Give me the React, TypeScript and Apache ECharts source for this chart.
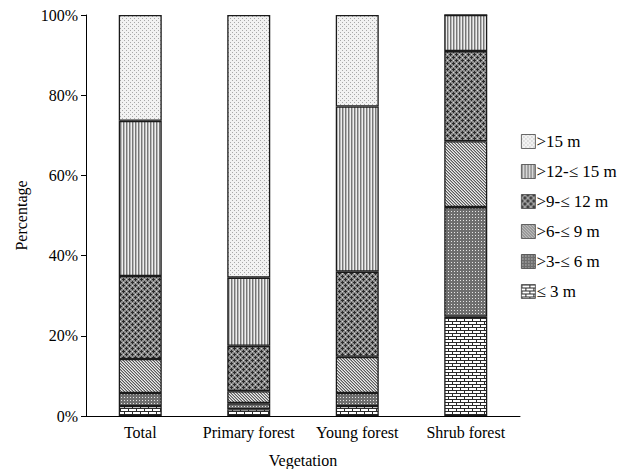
import React, { useEffect, useRef } from "react";
import * as echarts from "echarts";

const categories = ["Total", "Primary forest", "Young forest", "Shrub forest"];
const seriesNames = ["≤ 3 m", ">3-≤ 6 m", ">6-≤ 9 m", ">9-≤ 12 m", ">12-≤ 15 m", ">15 m"];
const le3 = [2.5, 1.7, 2.5, 24.75];
const g3to6 = [3.25, 1.5, 3.25, 27.35];
const g6to9 = [8.45, 3.0, 9.0, 16.4];
const g9to12 = [20.7, 11.3, 21.25, 22.5];
const g12to15 = [38.7, 17.0, 41.2, 9.0];
const gt15 = [26.4, 65.5, 22.8, 0];
const yTicks = [0, 20, 40, 60, 80, 100];

const FONT = "'Liberation Serif', 'Times New Roman', serif";

function makeTile(rows: string[], palette: Record<string, string>) {
  const h = rows.length;
  const w = rows[0].length;
  const c = document.createElement("canvas");
  c.width = w;
  c.height = h;
  const ctx = c.getContext("2d")!;
  for (let y = 0; y < h; y++) {
    for (let x = 0; x < w; x++) {
      ctx.fillStyle = palette[rows[y][x]];
      ctx.fillRect(x, y, 1, 1);
    }
  }
  return { image: c, repeat: "repeat", imageWidth: w, imageHeight: h } as any;
}

function buildPatterns() {
  const brick = makeTile(
    ["dddddddd", "dwwwwwww", "dwwwwwww", "dddddddd", "wwwwdwww", "wwwwdwww"],
    { d: "#2a2a2a", w: "#ffffff" }
  );
  const checker = makeTile(["ggg", "gwg", "ggg"], { g: "#6e6e6e", w: "#e6e6e6" });
  const diag = makeTile(["dlm", "mdl", "lmd"], { d: "#5a5a5a", m: "#a8a8a8", l: "#eeeeee" });
  const cross = makeTile(
    ["ddglgd", "dggggg", "gggdgg", "lgdddg", "gggdgg", "dggggg"],
    { d: "#2a2a2a", g: "#8c8c8c", l: "#d8d8d8" }
  );
  const vert = makeTile(["mlw"], { m: "#777777", l: "#b8b8b8", w: "#eeeeee" });
  const dots = makeTile(["dwww", "wwww", "wwdw", "wwww"], { d: "#a8a8a8", w: "#f2f2f2" });
  return [brick, checker, diag, cross, vert, dots];
}

export default function App() {
  const ref = useRef<HTMLDivElement>(null);
  useEffect(() => {
    document.body.style.margin = "0";
    if (!ref.current) return;
    const chart = echarts.init(ref.current, undefined, { renderer: "svg" });
    const patterns = buildPatterns();
    const values = [le3, g3to6, g6to9, g9to12, g12to15, gt15];
    const series = seriesNames.map((name, i) => ({
      name,
      type: "bar",
      stack: "total",
      barWidth: 43,
      data: values[i],
      itemStyle: { color: patterns[i], borderColor: "#1a1a1a", borderWidth: 1.3 },
    }));
    chart.setOption({
      animation: false,
      backgroundColor: "#ffffff",
      grid: { left: 86, top: 15, right: 118, bottom: 53, containLabel: false, outerBoundsMode: "none" },
      legend: {
        orient: "vertical",
        left: 521,
        top: 133,
        padding: 0,
        itemWidth: 14,
        itemHeight: 14,
        itemGap: 13,
        icon: "rect",
        data: [...seriesNames].reverse(),
        textStyle: { fontFamily: FONT, fontSize: 17, color: "#000", lineHeight: 16, padding: [0, 0, 0, -4] },
        itemStyle: { borderColor: "#444", borderWidth: 0.8 },
      },
      xAxis: {
        type: "category",
        data: categories,
        name: "Vegetation",
        nameLocation: "middle",
        nameGap: 36,
        nameTextStyle: { fontFamily: FONT, fontSize: 16, color: "#000" },
        axisLine: { lineStyle: { color: "#000", width: 1 } },
        axisTick: { show: false },
        axisLabel: { fontFamily: FONT, fontSize: 16, color: "#000", margin: 8, interval: 0 },
      },
      yAxis: {
        type: "value",
        min: yTicks[0],
        max: yTicks[yTicks.length - 1],
        interval: 20,
        name: "Percentage",
        nameLocation: "middle",
        nameGap: 53,
        nameTextStyle: { fontFamily: FONT, fontSize: 16, color: "#000" },
        axisLine: { show: true, lineStyle: { color: "#000", width: 1 } },
        axisTick: { show: true, length: 5, lineStyle: { color: "#000" } },
        splitLine: { show: false },
        axisLabel: {
          fontFamily: FONT,
          fontSize: 16,
          color: "#000",
          margin: 8,
          formatter: (v: number) => `${v}%`,
        },
      },
      series,
    });
    return () => chart.dispose();
  }, []);
  return <div ref={ref} style={{ width: 638, height: 469 }} />;
}
